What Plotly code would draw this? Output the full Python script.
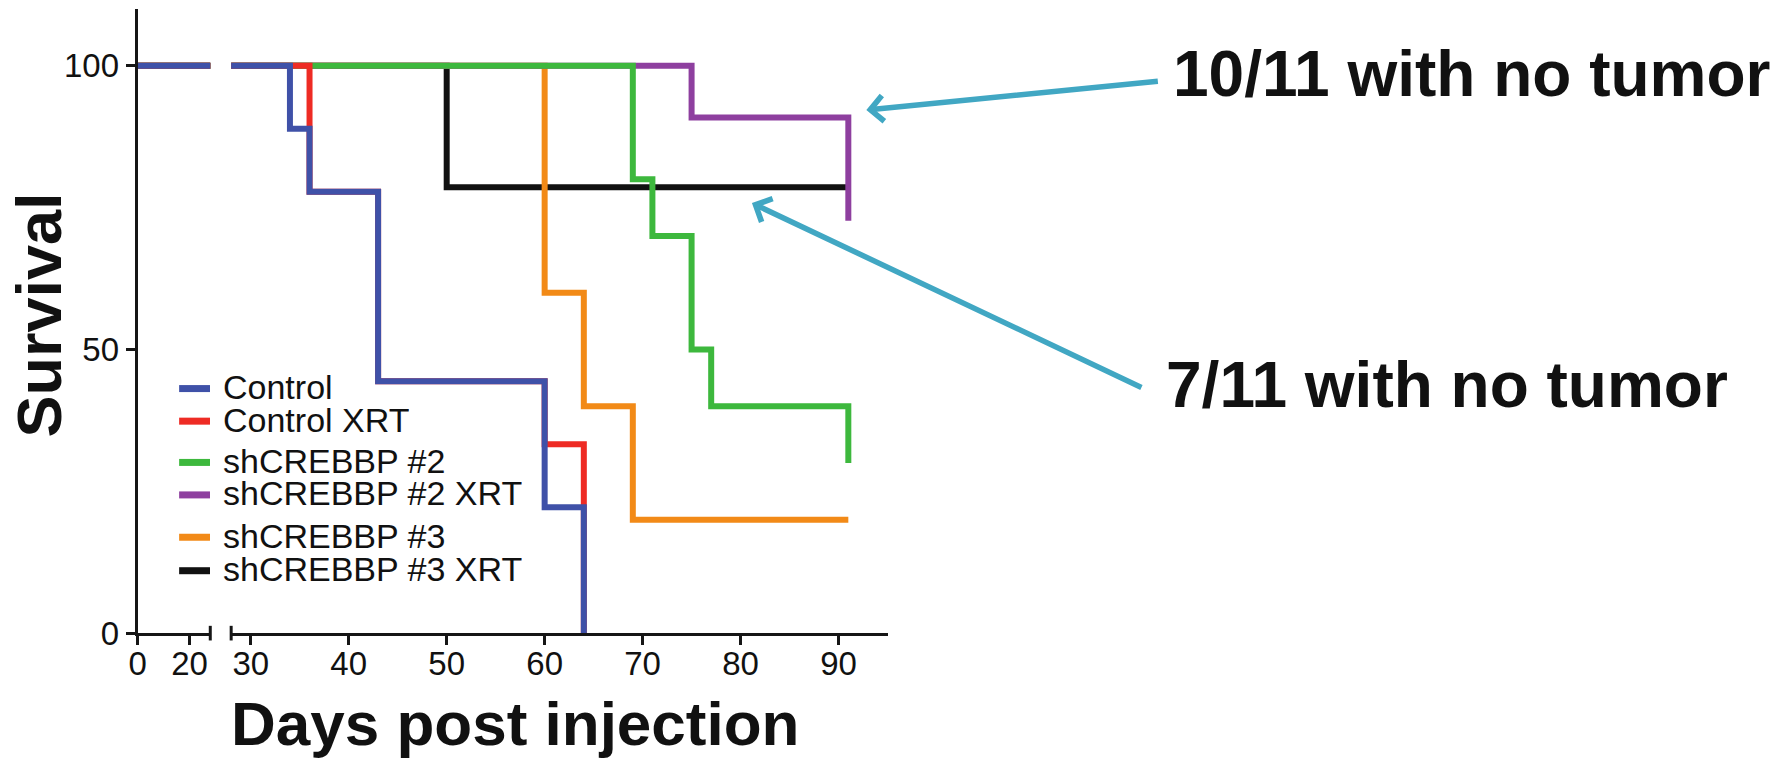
import plotly.graph_objects as go

# Kaplan-Meier step data: day of each event and survival (%) after it
control_days = [0, 34, 36, 43, 60, 64]
control_surv = [100, 88.9, 77.8, 44.4, 22.2, 0]

control_xrt_days = [0, 36, 43, 60, 64]
control_xrt_surv = [100, 77.8, 44.4, 33.3, 0]

sh2_days = [0, 69, 71, 75, 77, 91]
sh2_surv = [100, 80, 70, 50, 40, 30]

sh2_xrt_days = [0, 75, 91]
sh2_xrt_surv = [100, 90.9, 72.7]

sh3_days = [0, 60, 64, 69, 91]
sh3_surv = [100, 60, 40, 20, 20]

sh3_xrt_days = [0, 50, 91]
sh3_xrt_surv = [100, 78.6, 78.6]

series_names = ["Control", "Control XRT", "shCREBBP #2", "shCREBBP #2 XRT",
                "shCREBBP #3", "shCREBBP #3 XRT"]
series_colors = ["#3F51A8", "#EE2B24", "#3DB83D", "#8E3F9F", "#F28A17", "#111111"]
series_data = [
    (control_days, control_surv),
    (control_xrt_days, control_xrt_surv),
    (sh2_days, sh2_surv),
    (sh2_xrt_days, sh2_xrt_surv),
    (sh3_days, sh3_surv),
    (sh3_xrt_days, sh3_xrt_surv),
]

y_ticks = [0, 50, 100]
x_ticks_early = [0, 20]
x_ticks_late = [30, 40, 50, 60, 70, 80, 90]

W, H = 1771, 778
FONT = "Arial, 'Liberation Sans', sans-serif"
AXIS_COLOR = "#161616"
ARROW_COLOR = "#41A7C3"


def px(x):
    return x / W


def py(y):
    return 1 - y / H


fig = go.Figure()

# draw from the last group to the first so Control ends up on top
for idx in reversed(range(len(series_names))):
    days, surv = series_data[idx]
    for xa in ("x", "x2"):
        fig.add_trace(go.Scatter(
            x=days, y=surv, xaxis=xa, yaxis="y",
            mode="lines", line=dict(shape="hv", color=series_colors[idx], width=6),
            name=series_names[idx], showlegend=False, hoverinfo="skip",
        ))

tick_font = dict(family=FONT, size=33, color="#111111")
axis_common = dict(
    showline=True, linecolor=AXIS_COLOR, linewidth=3,
    ticks="outside", ticklen=9, tickwidth=3, tickcolor=AXIS_COLOR,
    showgrid=False, zeroline=False, tickfont=tick_font,
)

fig.update_layout(
    width=W, height=H,
    margin=dict(l=0, r=0, t=0, b=0),
    paper_bgcolor="white", plot_bgcolor="white",
    showlegend=False,
    xaxis=dict(domain=[px(129.3), px(202.3)], range=[0, 28], anchor="y",
               tickvals=x_ticks_early, ticklabelstandoff=-10, **axis_common),
    xaxis2=dict(domain=[px(223.3), px(883)], range=[28, 95], anchor="y",
                tickvals=x_ticks_late, ticklabelstandoff=-10, **axis_common),
    yaxis=dict(domain=[py(649), py(9.3)], range=[0, 110], anchor="x",
               tickvals=y_ticks, **axis_common),
)

# break marks at the ends of the two x-axis segments
for xref, xpos in (("x domain", 1), ("x2 domain", 0)):
    fig.add_shape(type="line", xref=xref, yref="paper", x0=xpos, x1=xpos,
                  y0=py(641.5), y1=py(656.5), line=dict(color=AXIS_COLOR, width=3))

# axis titles
fig.add_annotation(text="<b>Survival</b>", xref="paper", yref="paper",
                   x=px(30), y=py(322.6), textangle=-90, showarrow=False,
                   xanchor="center", yanchor="middle",
                   font=dict(family=FONT, size=63, color="#111111"))
fig.add_annotation(text="<b>Days post injection</b>", xref="paper", yref="paper",
                   x=px(509), y=py(742), showarrow=False,
                   xanchor="center", yanchor="middle",
                   font=dict(family=FONT, size=62, color="#111111"))

# legend: short coloured lines with labels, paired groups
legend_rows = [398.3, 431.7, 474.0, 507.3, 550.7, 585.0]
for name, color, yrow in zip(series_names, series_colors, legend_rows):
    fig.add_shape(type="line", xref="paper", yref="paper",
                  x0=px(171), x1=px(202), y0=py(yrow), y1=py(yrow),
                  line=dict(color=color, width=7))
    fig.add_annotation(text=name, xref="paper", yref="paper",
                       x=px(213), y=py(yrow - 1.5), showarrow=False,
                       xanchor="left", yanchor="middle", height=30,
                       font=dict(family=FONT, size=34, color="#111111"))

# callouts
fig.add_annotation(text="<b>10/11 with no tumor</b>", xref="paper", yref="paper",
                   x=px(1168), y=py(76), showarrow=False,
                   xanchor="left", yanchor="middle",
                   font=dict(family=FONT, size=64, color="#111111"))
fig.add_annotation(text="<b>7/11 with no tumor</b>", xref="paper", yref="paper",
                   x=px(1161), y=py(394.5), showarrow=False,
                   xanchor="left", yanchor="middle",
                   font=dict(family=FONT, size=64, color="#111111"))

fig.add_annotation(text="", xref="x2", yref="y", x=92.84, y=92.2,
                   ax=293, ay=-29, showarrow=True, arrowhead=4, arrowsize=0.9,
                   arrowwidth=5.5, arrowcolor=ARROW_COLOR)
fig.add_annotation(text="", xref="x2", yref="y", x=81.16, y=75.8,
                   ax=391, ay=185, showarrow=True, arrowhead=4, arrowsize=0.9,
                   arrowwidth=5.5, arrowcolor=ARROW_COLOR)

fig.write_html("out.html")
